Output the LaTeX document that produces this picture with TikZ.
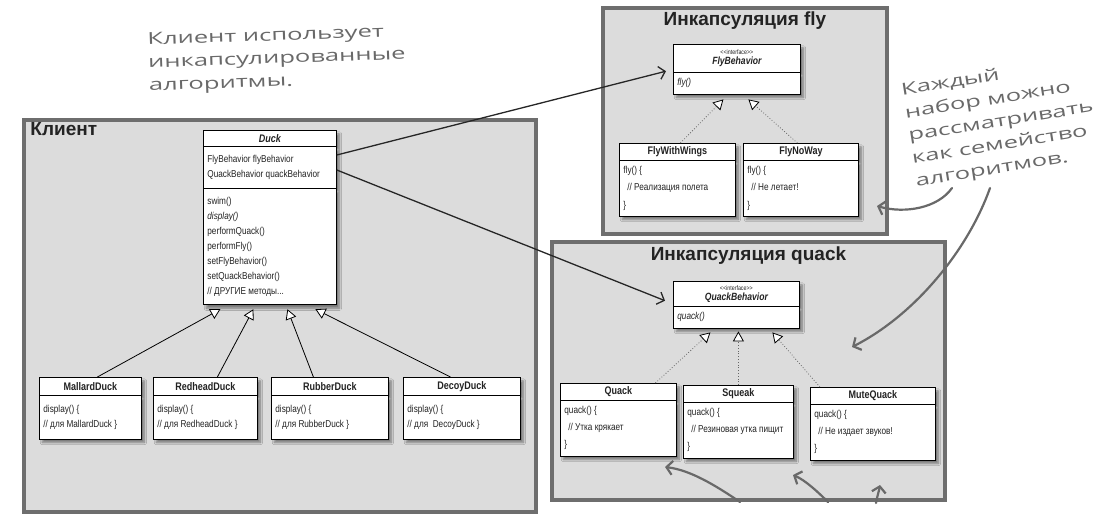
\documentclass[tikz,border=0pt]{standalone}
\usepackage{fontspec}
\setmainfont{Liberation Sans}
\newfontfamily\umlfont[FakeStretch=0.82]{Liberation Sans}
\newfontfamily\handfont[FakeStretch=1.55]{Open Sans}
\usepackage{tikz}
\usetikzlibrary{shapes.multipart, arrows.meta, positioning, shadows.blur, calc}
\definecolor{panelgray}{RGB}{220, 220, 220}
\definecolor{paneledge}{RGB}{110, 110, 110}
\definecolor{textdark}{RGB}{35, 35, 35}
\definecolor{handgray}{RGB}{105, 105, 105}

% one compartment of a class box: width, height, contents
\newcommand{\cpart}[3]{\parbox[c][#2][c]{#1}{#3}}
\newcommand{\hd}{\fontsize{11}{12}\selectfont\bfseries}

\tikzset{
    panel/.style={draw=paneledge, line width=3.5pt, fill=panelgray, inner sep=0pt},
    paneltitle/.style={font=\bfseries\fontsize{19}{22}\selectfont, text=textdark, inner sep=0pt},
    classbox/.style={
        rectangle split, rectangle split parts=2,
        draw=black, line width=0.8pt, fill=white,
        inner xsep=4pt, inner ysep=0pt, anchor=north west,
        text=textdark, font=\umlfont\fontsize{10}{15}\selectfont,
        blur shadow={shadow xshift=3pt, shadow yshift=-3.5pt, shadow blur steps=8, shadow opacity=45}
    },
    inherits/.style={draw=black, line width=0.8pt, -{Triangle[length=10pt, width=11pt, fill=white]}},
    realizes/.style={draw=black!60, line width=0.8pt, dotted, -{Triangle[length=10pt, width=11pt, fill=white, color=black]}},
    hasa/.style={draw=black!85, line width=1.3pt, -{Straight Barb[length=6pt, width=13pt]}},
    hint/.style={draw=handgray, line width=2.2pt, line cap=round, -{Straight Barb[length=6pt, width=14pt]}},
    handnote/.style={font=\handfont\fontsize{16.5}{23}\selectfont, text=handgray, align=left, inner sep=0pt}
}

\begin{document}
\begin{tikzpicture}[x=1pt, y=-1pt]
    \fill[white] (0,0) rectangle (1101,520);
    \useasboundingbox (0,0) rectangle (1101,520);

    % panels
    \node[panel, minimum width=512pt, minimum height=392pt] (client) at (280,316) {};
    \node[panel, minimum width=284pt, minimum height=226pt] (flypanel) at (745,121) {};
    \node[panel, minimum width=393pt, minimum height=258pt] (quackpanel) at (748.5,371) {};
    \node[paneltitle, anchor=north west] (clienttitle) at ([shift={(8pt,-4pt)}]client.north west) {Клиент};
    \node[paneltitle, anchor=north] (flytitle) at ([yshift=-5pt]flypanel.north) {Инкапсуляция fly};
    \node[paneltitle, anchor=north] (quacktitle) at ([yshift=-6pt]quackpanel.north) {Инкапсуляция quack};

    % client classes
    \node[classbox, rectangle split parts=3] (duck) at (203,130) {%
        \cpart{125pt}{15pt}{\centering\hd\itshape Duck}
        \nodepart{two}\cpart{125pt}{41pt}{FlyBehavior flyBehavior\\QuackBehavior quackBehavior}
        \nodepart{three}\cpart{125pt}{116pt}{swim()\\\textit{display()}\\performQuack()\\performFly()\\setFlyBehavior()\\setQuackBehavior()\\// ДРУГИЕ методы...}};
    \node[classbox] (mallard) at (39,377) {%
        \cpart{94pt}{17pt}{\centering\hd MallardDuck}
        \nodepart{two}\cpart{94pt}{43pt}{display() \{\\// для MallardDuck \}}};
    \node[classbox] (redhead) at (153,377) {%
        \cpart{96pt}{17pt}{\centering\hd RedheadDuck}
        \nodepart{two}\cpart{96pt}{43pt}{display() \{\\// для RedheadDuck \}}};
    \node[classbox] (rubber) at (271,377) {%
        \cpart{109pt}{17pt}{\centering\hd RubberDuck}
        \nodepart{two}\cpart{109pt}{43pt}{display() \{\\// для RubberDuck \}}};
    \node[classbox] (decoy) at (403,377) {%
        \cpart{109pt}{17pt}{\centering\hd DecoyDuck}
        \nodepart{two}\cpart{109pt}{43pt}{display() \{\\// для~~DecoyDuck \}}};

    % fly classes
    \node[classbox] (flyb) at (673,44) {%
        \cpart{119pt}{27pt}{\centering{\fontsize{6.5}{8}\selectfont\textless\textless interface\textgreater\textgreater\par}\fontsize{10.5}{10}\selectfont\bfseries\itshape FlyBehavior}
        \nodepart{two}\cpart{119pt}{21pt}{\itshape fly()}};
    \node[classbox] (wings) at (619,143) {%
        \cpart{108pt}{16pt}{\centering\hd FlyWithWings}
        \nodepart{two}\cpart{108pt}{55pt}{\fontsize{10}{17.5}\selectfont fly() \{\\\hspace*{4pt}// Реализация полета\\\}}};
    \node[classbox] (noway) at (743,143) {%
        \cpart{107pt}{16pt}{\centering\hd FlyNoWay}
        \nodepart{two}\cpart{107pt}{55pt}{\fontsize{10}{17.5}\selectfont fly() \{\\\hspace*{4pt}// Не летает!\\\}}};

    % quack classes
    \node[classbox] (quackb) at (673,281) {%
        \cpart{118pt}{24pt}{\centering{\fontsize{6.5}{8}\selectfont\textless\textless interface\textgreater\textgreater\par}\fontsize{10.5}{10}\selectfont\bfseries\itshape QuackBehavior}
        \nodepart{two}\cpart{118pt}{21pt}{\itshape quack()}};
    \node[classbox] (quack) at (560,383) {%
        \cpart{108pt}{16pt}{\centering\hd Quack}
        \nodepart{two}\cpart{108pt}{55pt}{\fontsize{10}{17}\selectfont quack() \{\\\hspace*{4pt}// Утка крякает\\\}}};
    \node[classbox] (squeak) at (683,385) {%
        \cpart{102pt}{16pt}{\centering\hd Squeak}
        \nodepart{two}\cpart{102pt}{55pt}{\fontsize{10}{17}\selectfont quack() \{\\\hspace*{4pt}// Резиновая утка пищит\\\}}};
    \node[classbox] (mute) at (810,387) {%
        \cpart{117pt}{16pt}{\centering\hd MuteQuack}
        \nodepart{two}\cpart{117pt}{55pt}{\fontsize{10}{17}\selectfont quack() \{\\\hspace*{4pt}// Не издает звуков!\\\}}};

    % inheritance
    \draw[inherits] ([xshift=7pt]mallard.north) -- ([shift={(-49.5pt,-4pt)}]duck.south);
    \draw[inherits] ([xshift=12pt]redhead.north) -- ([shift={(-16.5pt,-4pt)}]duck.south);
    \draw[inherits] ([xshift=-16.5pt]rubber.north) -- ([shift={(17.5pt,-4pt)}]duck.south);
    \draw[inherits] ([xshift=-11.5pt]decoy.north) -- ([shift={(45.5pt,-4pt)}]duck.south);

    % interfaces
    \draw[realizes] ([xshift=3pt]wings.north) -- ([shift={(-13.5pt,-5pt)}]flyb.south);
    \draw[realizes] ([xshift=-3.5pt]noway.north) -- ([shift={(11.5pt,-5pt)}]flyb.south);
    \draw[realizes] ([xshift=37pt]quack.north) -- ([shift={(-26pt,-4pt)}]quackb.south);
    \draw[realizes] (squeak.north) -- ([shift={(2pt,-3pt)}]quackb.south);
    \draw[realizes] ([xshift=-53pt]mute.north) -- ([shift={(36pt,-4pt)}]quackb.south);

    % duck has a behaviour
    \draw[hasa] ([yshift=-25pt]duck.north east) -- ([shift={(-7pt,-2pt)}]flyb.west);
    \draw[hasa] ([yshift=-40pt]duck.north east) -- ([shift={(-8pt,4pt)}]quackb.west);

    % handwritten notes
    \node[handnote, anchor=north west, rotate=2] (clientnote) at (147,33) {Клиент использует\\инкапсулированные\\алгоритмы.};
    \node[handnote, rotate=9] (familynote) at (1001,122) {Каждый\\набор можно\\рассматривать\\как семейство\\алгоритмов.};

    \coordinate (famfly) at (952,188);
    \coordinate (flytip) at (877,206);
    \coordinate (famquack) at (990,188);
    \coordinate (quacktip) at (852,347);
    \coordinate (hintquack) at (740,502);
    \coordinate (hintsqueak) at (828,502);
    \coordinate (hintmute) at (876,503);
    \draw[hint] (famfly) .. controls (938,208) and (905,214) .. (flytip);
    \draw[hint] (famquack) .. controls (968,250) and (915,315) .. (quacktip);
    \draw[hint] (hintquack) .. controls (715,485) and (690,470) .. (665,467);
    \draw[hint] (hintsqueak) .. controls (818,492) and (805,480) .. (793,475);
    \draw[hint] (hintmute) .. controls (877,497) and (879,491) .. (880,485);
\end{tikzpicture}
\end{document}
